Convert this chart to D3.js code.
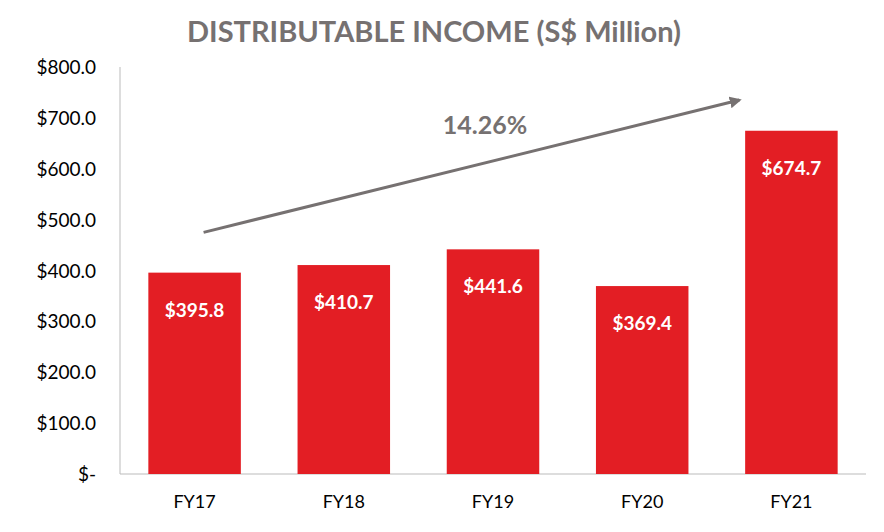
<!DOCTYPE html>
<html><head><meta charset="utf-8">
<script src="https://cdn.jsdelivr.net/npm/d3@7"></script>
<style>body{margin:0;background:#fff}svg{font-family:Lato,"Open Sans",sans-serif}</style>
</head><body>
<svg id="c" width="884" height="532"></svg>
<script>
const categories = ["FY17","FY18","FY19","FY20","FY21"];
const values = [395.8,410.7,441.6,369.4,674.7];
const labels = ["$395.8","$410.7","$441.6","$369.4","$674.7"];
const yTicks = [0,100,200,300,400,500,600,700,800];
const cagr = "14.26%";
const arrowFrom = {cat:"FY17", v:475};
const arrowTo = {cat:"FY21", v:735};

const svg = d3.select("#c");
const x = d3.scaleBand().domain(categories).range([120,866]).paddingInner(0.38).paddingOuter(0.19);
const y = d3.scaleLinear().domain([0,800]).range([474,67]);
const gray="#767171";

svg.append("text").attr("x",434).attr("y",42).attr("text-anchor","middle")
 .attr("font-size",29).attr("font-weight","bold").attr("fill",gray).text("DISTRIBUTABLE INCOME (S$ Million)");

svg.selectAll(".yt").data(yTicks).join("text").attr("x",96).attr("y",d=>y(d)+7)
 .attr("text-anchor","end").attr("font-size",19).attr("fill","#000")
 .text(d=>d===0?"$-":"$"+d.toFixed(1));
svg.append("line").attr("x1",120).attr("x2",120).attr("y1",y(800)).attr("y2",y(0)).attr("stroke","#bbb");
svg.append("line").attr("x1",120).attr("x2",866).attr("y1",y(0)).attr("y2",y(0)).attr("stroke","#bbb");

svg.selectAll(".b").data(values).join("rect").attr("x",(d,i)=>x(categories[i])).attr("width",x.bandwidth())
 .attr("y",d=>y(d)).attr("height",d=>y(0)-y(d)).attr("fill","#e31e24");
svg.selectAll(".l").data(values).join("text").attr("x",(d,i)=>x(categories[i])+x.bandwidth()/2)
 .attr("y",d=>y(d)+44).attr("text-anchor","middle").attr("fill","#fff").attr("font-weight","bold")
 .attr("font-size",19).text((d,i)=>labels[i]);
svg.selectAll(".xl").data(categories).join("text").attr("x",d=>x(d)+x.bandwidth()/2).attr("y",y(0)+34)
 .attr("text-anchor","middle").attr("font-size",18).text(d=>d);

svg.append("defs").append("marker").attr("id","ah").attr("viewBox","0 0 10 10").attr("refX",8).attr("refY",5)
 .attr("markerWidth",4).attr("markerHeight",4).attr("orient","auto")
 .append("path").attr("d","M0,0L10,5L0,10z").attr("fill",gray);
svg.append("line").attr("x1",x(arrowFrom.cat)+x.bandwidth()/2+9).attr("y1",y(arrowFrom.v))
 .attr("x2",x(arrowTo.cat)+x.bandwidth()/2-52).attr("y2",y(arrowTo.v))
 .attr("stroke",gray).attr("stroke-width",3).attr("marker-end","url(#ah)");
svg.append("text").attr("x",485).attr("y",134).attr("text-anchor","middle").attr("font-size",25)
 .attr("font-weight","bold").attr("fill",gray).text(cagr);
</script></body></html>
